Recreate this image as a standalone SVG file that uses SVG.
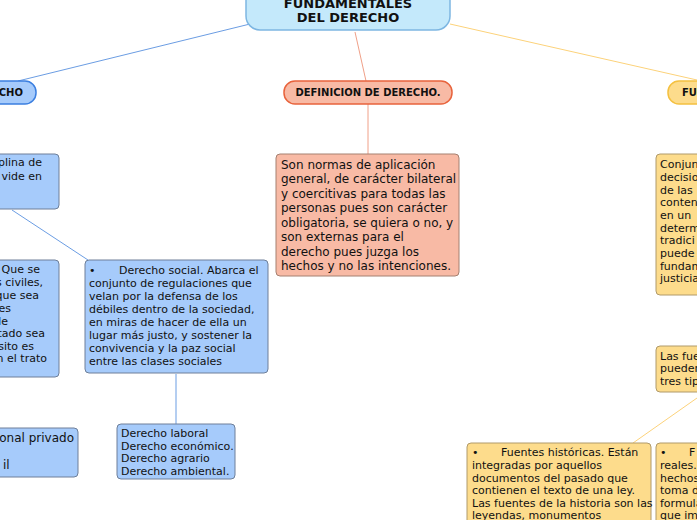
<svg xmlns="http://www.w3.org/2000/svg" width="697" height="520" viewBox="0 0 697 520">
<style>
text{font-family:"DejaVu Sans",Verdana,sans-serif;font-size:11px;fill:#111}
.b{font-weight:bold;font-size:10px}
.t{font-weight:bold;font-size:13px}
.blue{fill:#a6cbfb;stroke:#6e7f99;stroke-width:1}
.sal{fill:#f8baa5;stroke:#a58070;stroke-width:1}
.yel{fill:#fddc8c;stroke:#b09a6a;stroke-width:1}
.l{fill:none;stroke-width:1}
</style>
<rect width="697" height="520" fill="#fff"/>
<g id="connectors">
<path class="l" stroke="#6b9de3" d="M250 24 L18 81 M12 210 L88 260 M176 374 L176 424"/>
<path class="l" stroke="#f0a088" d="M355 32 L366 81 M368 104 L368 154"/>
<path class="l" stroke="#fcd27a" d="M450 24 L697 80 M697 398 L633 443"/>
</g>
<g id="root">
<rect x="246" y="-22" width="204" height="52" rx="14" fill="#c4e9fb" stroke="#7db6e2" stroke-width="1.5"/>
<text class="t" x="348" y="8" text-anchor="middle">FUNDAMENTALES</text>
<text class="t" x="348" y="22" text-anchor="middle">DEL DERECHO</text>
</g>
<g id="n-left">
<rect x="-40" y="81" width="76" height="23" rx="11" fill="#a6cbfb" stroke="#3b7fe0" stroke-width="1.5"/>
<text class="b" x="23" y="96" text-anchor="end">ECHO</text>
</g>
<g id="n-disc">
<rect class="blue" x="-10" y="154" width="69" height="55" rx="4"/>
<text x="42" y="166" text-anchor="end">plina de</text>
<text x="42" y="180" text-anchor="end">vide en</text>
</g>
<g id="n-priv">
<rect class="blue" x="-10" y="260" width="69" height="117" rx="4"/>
<text x="40" y="273" text-anchor="end">Que se</text>
<text x="43" y="286" text-anchor="end">s civiles,</text>
<text x="39" y="299" text-anchor="end">que sea</text>
<text x="11" y="312" text-anchor="end">es</text>
<text x="8" y="325" text-anchor="end">de</text>
<text x="45" y="337" text-anchor="end">tado sea</text>
<text x="34" y="350" text-anchor="end">sito es</text>
<text x="47" y="362" text-anchor="end">n el trato</text>
</g>
<g id="n-social">
<rect class="blue" x="85" y="260" width="183" height="113" rx="4"/>
<text x="89" y="274">•<tspan x="119">Derecho social. Abarca el</tspan></text>
<text x="89" y="287">conjunto de regulaciones que</text>
<text x="89" y="300">velan por la defensa de los</text>
<text x="89" y="313">débiles dentro de la sociedad,</text>
<text x="89" y="326">en miras de hacer de ella un</text>
<text x="89" y="339">lugar más justo, y sostener la</text>
<text x="89" y="352">convivencia y la paz social</text>
<text x="89" y="365">entre las clases sociales</text>
</g>
<g id="n-list">
<rect class="blue" x="117" y="424" width="118" height="55" rx="4"/>
<text x="121" y="437">Derecho laboral</text>
<text x="121" y="450">Derecho económico.</text>
<text x="121" y="462">Derecho agrario</text>
<text x="121" y="475">Derecho ambiental.</text>
</g>
<g id="n-intl">
<rect class="blue" x="-10" y="428" width="88" height="49" rx="4"/>
<text x="74" y="442" text-anchor="end" style="font-size:12px">onal privado</text>
<text x="3" y="469" style="font-size:12px">il</text>
</g>
<g id="n-def">
<rect x="284" y="81" width="168" height="23" rx="11" fill="#f8baa5" stroke="#e8633c" stroke-width="1.5"/>
<text class="b" x="368" y="96" text-anchor="middle">DEFINICION DE DERECHO.</text>
</g>
<g id="n-defbody">
<rect class="sal" x="276" y="154" width="183" height="122" rx="4"/>
<text x="281" y="169" style="font-size:12px">Son normas de aplicación</text>
<text x="281" y="183" style="font-size:12px">general, de carácter bilateral</text>
<text x="281" y="198" style="font-size:12px">y coercitivas para todas las</text>
<text x="281" y="212" style="font-size:12px">personas pues son carácter</text>
<text x="281" y="227" style="font-size:12px">obligatoria, se quiera o no, y</text>
<text x="281" y="241" style="font-size:12px">son externas para el</text>
<text x="281" y="256" style="font-size:12px">derecho pues juzga los</text>
<text x="281" y="270" style="font-size:12px">hechos y no las intenciones.</text>
</g>
<g id="n-fu">
<rect x="668" y="81" width="60" height="23" rx="11" fill="#fddc8c" stroke="#f4c040" stroke-width="1.5"/>
<text class="b" x="682" y="96">FU</text>
</g>
<g id="n-conj">
<rect class="yel" x="656" y="154" width="60" height="141" rx="4"/>
<text x="660" y="168">Conjun</text>
<text x="660" y="181">decisio</text>
<text x="660" y="194">de las</text>
<text x="660" y="206">conten</text>
<text x="660" y="219">en un</text>
<text x="660" y="232">determ</text>
<text x="660" y="244">tradici</text>
<text x="660" y="257">puede</text>
<text x="660" y="270">fundam</text>
<text x="660" y="282">justicia</text>
</g>
<g id="n-las">
<rect class="yel" x="656" y="346" width="60" height="46" rx="4"/>
<text x="660" y="360">Las fue</text>
<text x="660" y="372">pueden</text>
<text x="660" y="385">tres tip</text>
</g>
<g id="n-hist">
<rect class="yel" x="467" y="443" width="184" height="90" rx="4"/>
<text x="472" y="456">•<tspan x="501">Fuentes históricas.  Están</tspan></text>
<text x="472" y="469">integradas por aquellos</text>
<text x="472" y="482">documentos del pasado que</text>
<text x="472" y="494">contienen el texto de una ley.</text>
<text x="472" y="507">Las fuentes de la historia son las</text>
<text x="472" y="519">leyendas, monumentos</text>
</g>
<g id="n-reales">
<rect class="yel" x="656" y="443" width="60" height="90" rx="4"/>
<text x="660" y="456">•<tspan x="689">F</tspan></text>
<text x="660" y="469">reales.</text>
<text x="660" y="482">hechos</text>
<text x="660" y="494">toma d</text>
<text x="660" y="507">formula</text>
<text x="660" y="519">que im</text>
</g>
</svg>
